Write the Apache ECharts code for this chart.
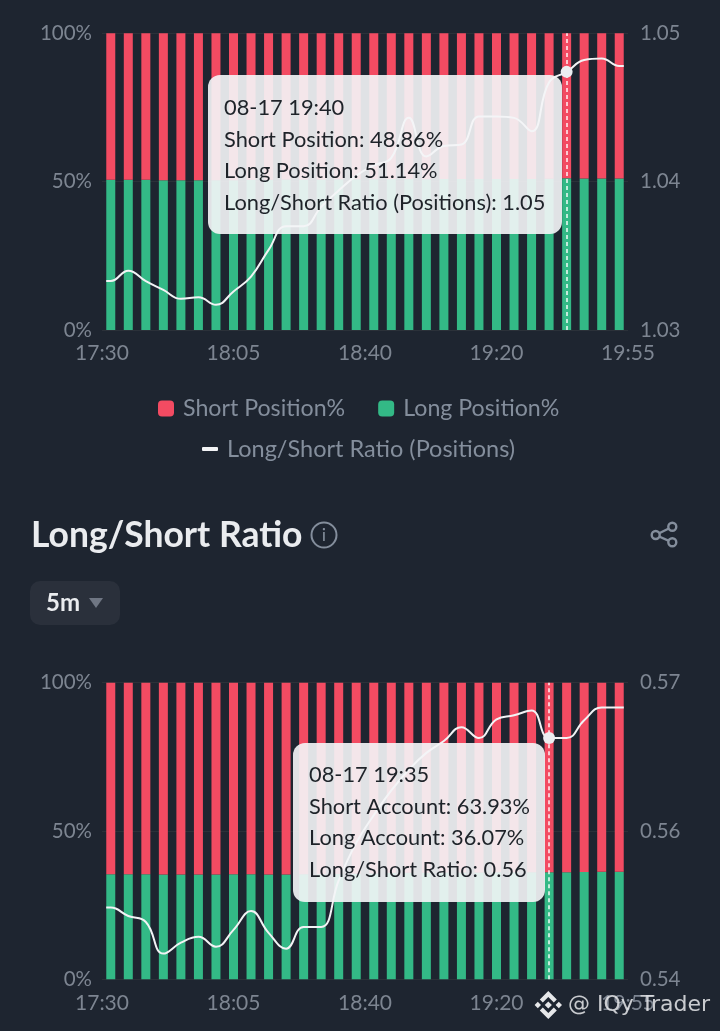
<!DOCTYPE html>
<html><head><meta charset="utf-8">
<style>html,body{margin:0;padding:0;background:#1e2530}#c{width:720px;height:1031px}</style>
<script src="https://cdn.jsdelivr.net/npm/echarts@6/dist/echarts.min.js"></script>
</head><body><div id="c"></div>
<script>
const times = ['17:30','17:35','17:40','17:45','17:50','17:55','18:00','18:05','18:10','18:15','18:20','18:25','18:30','18:35','18:40','18:45','18:50','18:55','19:00','19:05','19:10','19:15','19:20','19:25','19:30','19:35','19:40','19:45','19:50','19:55'];
const tickLabels = ['17:30','18:05','18:40','19:20','19:55'];

const longPos = [50.6,50.6,50.6,50.5,50.5,50.5,50.5,50.5,50.6,50.6,50.7,50.7,50.7,50.8,50.8,50.8,50.9,50.9,50.8,50.9,50.9,50.9,50.9,50.9,50.9,51.0,51.14,51.1,51.1,51.1];
const ratioPos = [1.0333,1.0340,1.0333,1.0327,1.0321,1.0322,1.0317,1.0326,1.0336,1.0354,1.0370,1.0370,1.0383,1.0394,1.0404,1.0411,1.0416,1.0443,1.0417,1.0424,1.0425,1.0444,1.0444,1.0443,1.0434,1.0467,1.0474,1.0482,1.0483,1.0478];
const longAcc = [35.4,35.4,35.4,35.3,35.3,35.3,35.3,35.4,35.4,35.3,35.3,35.4,35.4,35.5,35.6,35.7,35.8,35.9,35.9,36.0,36.0,36.0,36.1,36.1,36.1,36.07,36.1,36.2,36.3,36.3];
const ratioAcc = [0.54725,0.5464,0.5458,0.5426,0.5437,0.5443,0.5433,0.5450,0.5469,0.5447,0.5431,0.5453,0.5453,0.5500,0.5538,0.5566,0.5591,0.5612,0.5629,0.5641,0.5655,0.5644,0.5663,0.5667,0.5672,0.5644,0.5644,0.5662,0.5675,0.5675];

const pick1 = 26, pick2 = 25;
const tip1 = ['08-17 19:40','Short Position: 48.86%','Long Position: 51.14%','Long/Short Ratio (Positions): 1.05'];
const tip2 = ['08-17 19:35','Short Account: 63.93%','Long Account: 36.07%','Long/Short Ratio: 0.56'];

const FONT = 'Lato';
const BG = '#1e2530', RED = '#f34b62', GREEN = '#33b986', GREY = '#7d8591', LEG = '#848e9c', GRID = '#2b3139';
const short = a => a.map(v => +(100 - v).toFixed(2));
const LAST = times.length - 1;

function axes(g, rmin, rmax, rint) {
  return {
    x: [
      {gridIndex:g, type:'category', data:times, boundaryGap:true, axisLine:{show:false}, axisTick:{show:false}, axisLabel:{show:false}},
      {gridIndex:g, type:'category', data:tickLabels, boundaryGap:false, position:'bottom', axisLine:{show:false}, axisTick:{show:false},
       axisLabel:{interval:0, color:GREY, fontFamily:FONT, fontSize:21, margin:13, hideOverlap:false, showMinLabel:true, showMaxLabel:true}},
      {gridIndex:g, type:'value', show:false, min:-0.5, max:LAST + 0.5, splitLine:{show:false}}
    ],
    y: [
      {gridIndex:g, type:'value', min:0, max:100, interval:50, axisLine:{show:false}, axisTick:{show:false},
       splitLine:{show:true, lineStyle:{color:GRID, width:1}},
       axisLabel:{color:GREY, fontFamily:FONT, fontSize:20.5, margin:10, formatter:v => v + '%'}},
      {gridIndex:g, type:'value', position:'right', min:rmin, max:rmax, interval:rint, axisLine:{show:false}, axisTick:{show:false},
       splitLine:{show:false},
       axisLabel:{color:GREY, fontFamily:FONT, fontSize:20.5, margin:12, formatter:v => v.toFixed(2)}}
    ]
  };
}
const a1 = axes(0, 1.03, 1.05, 0.01), a2 = axes(1, 0.54, 0.57, 0.015);

function seriesFor(xi, yi, names, long, ratio, pick) {
  const bar = (name, data, color) => ({name, type:'bar', stack:'s'+xi, xAxisIndex:xi, yAxisIndex:yi, data, barWidth:9, itemStyle:{color}, animation:false, silent:true,
    emphasis:{disabled:true}});
  // the line runs to the outer edges of the first and last bars
  const pts = ratio.map((v, i) => [i, v]);
  pts.unshift([-0.26, ratio[0]]);
  pts.push([LAST + 0.26, ratio[LAST]]);
  return [
    bar(names[1], long, GREEN),
    bar(names[0], short(long), RED),
    {name:names[2], type:'line', xAxisIndex:xi+2, yAxisIndex:yi+1, data:pts, smooth:0.45, showSymbol:false, animation:false,
     lineStyle:{color:'#f2f3f5', width:2}, itemStyle:{color:'#f2f3f5'},
     markLine:{silent:true, animation:false, symbol:'none', label:{show:false},
       lineStyle:{color:'#ffffff', type:[4,3], width:1.5, opacity:0.95}, data:[{xAxis:pick}]},
     markPoint:{silent:true, animation:false, symbol:'circle', symbolSize:12, itemStyle:{color:'#eceef1'}, label:{show:false},
       data:[{coord:[pick, ratio[pick]]}]}}
  ];
}

function tipBox(x, y, w, h, lines, ys) {
  return {type:'group', z:50, children:[
    {type:'rect', z:50, shape:{x, y, width:w, height:h, r:12}, style:{fill:'rgba(244,245,247,0.91)'}},
    ...lines.map((t, i) => ({type:'text', z:51, x:x+16, y:ys[i], style:{text:t, fill:'#1e2329', font:'21.8px '+FONT, textVerticalAlign:'middle'}}))
  ]};
}
const diamond = (cx, cy, r, fill) => ({type:'polygon', z:60, shape:{points:[[cx,cy-r],[cx+r,cy],[cx,cy+r],[cx-r,cy]]}, style:{fill}});
const LOGO = '#e6e7e9';
const L = {x:548.3, y:1005};

const graphic = [
  tipBox(208, 75, 354, 159, tip1, [107.5,139.5,171,203]),
  tipBox(293, 743, 252, 159, tip2, [775,806.5,838,870]),
  {type:'text', x:31, y:536, style:{text:'Long/Short Ratio', fill:'#eaecef', font:'bold 35.5px '+FONT, textVerticalAlign:'middle'}},
  {type:'circle', shape:{cx:324, cy:535, r:12.5}, style:{fill:'none', stroke:LEG, lineWidth:2}},
  {type:'text', x:324, y:535, style:{text:'i', fill:LEG, font:'18px '+FONT, textAlign:'center', textVerticalAlign:'middle'}},
  {type:'line', shape:{x1:655.7,y1:535,x2:672.3,y2:526.7}, style:{stroke:LEG, lineWidth:2.4}},
  {type:'line', shape:{x1:655.7,y1:535,x2:672.3,y2:542.3}, style:{stroke:LEG, lineWidth:2.4}},
  {type:'circle', z:5, shape:{cx:655.7, cy:535, r:4}, style:{fill:BG, stroke:LEG, lineWidth:2.4}},
  {type:'circle', z:5, shape:{cx:672.3, cy:526.7, r:4}, style:{fill:BG, stroke:LEG, lineWidth:2.4}},
  {type:'circle', z:5, shape:{cx:672.3, cy:542.3, r:4}, style:{fill:BG, stroke:LEG, lineWidth:2.4}},
  {type:'rect', shape:{x:30, y:581, width:90, height:44, r:10}, style:{fill:'#2a303b'}},
  {type:'text', x:46, y:603, style:{text:'5m', fill:'#eaecef', font:'bold 24px '+FONT, textVerticalAlign:'middle'}},
  {type:'polygon', shape:{points:[[89,598],[103,598],[96,608]]}, style:{fill:'#6f7683'}},
  diamond(L.x, L.y, 3.6, LOGO), diamond(L.x-10.5, L.y, 3.2, LOGO), diamond(L.x+10.5, L.y, 3.2, LOGO),
  {type:'polygon', z:60, shape:{points:[[L.x,L.y-14],[L.x+8.5,L.y-5.5],[L.x+5.5,L.y-2.5],[L.x,L.y-8],[L.x-5.5,L.y-2.5],[L.x-8.5,L.y-5.5]]}, style:{fill:LOGO}},
  {type:'polygon', z:60, shape:{points:[[L.x,L.y+14],[L.x+8.5,L.y+5.5],[L.x+5.5,L.y+2.5],[L.x,L.y+8],[L.x-5.5,L.y+2.5],[L.x-8.5,L.y+5.5]]}, style:{fill:LOGO}},
  {type:'text', z:60, x:568, y:1005, style:{text:'@ IQy Trader', fill:'rgba(232,233,235,0.85)', font:'22px "DejaVu Sans"', textVerticalAlign:'middle'}}
];

const names1 = ['Short Position%','Long Position%','Long/Short Ratio (Positions)'];
const names2 = ['Short Account%','Long Account%','Long/Short Ratio'];
const legendText = {color:LEG, fontFamily:FONT, fontSize:23.2, padding:[0,0,0,4]};
const legendText2 = {color:LEG, fontFamily:FONT, fontSize:23.5, padding:[0,0,0,4]};

const chart = echarts.init(document.getElementById('c'), null, {width:720, height:1031});
chart.setOption({
  animation:false,
  backgroundColor:BG,
  textStyle:{fontFamily:FONT},
  grid:[
    {left:102, top:33.3, width:526, height:296.7, containLabel:false},
    {left:102, top:682.7, width:526, height:296.6, containLabel:false}
  ],
  xAxis:[...a1.x, ...a2.x],
  yAxis:[...a1.y, ...a2.y],
  legend:[
    {top:397, left:158, data:[{name:names1[0], icon:'roundRect'},{name:names1[1], icon:'roundRect'}], itemWidth:16, itemHeight:16, itemGap:33, textStyle:legendText, selectedMode:false, padding:0, itemStyle:{borderWidth:0}},
    {top:437, left:202, data:[{name:names1[2], icon:'roundRect'}], itemWidth:16, itemHeight:4, textStyle:legendText2, selectedMode:false, padding:0, itemStyle:{borderWidth:0}}
  ],
  series:[
    ...seriesFor(0, 0, names1, longPos, ratioPos, pick1),
    ...seriesFor(3, 2, names2, longAcc, ratioAcc, pick2)
  ],
  graphic
});
</script></body></html>
